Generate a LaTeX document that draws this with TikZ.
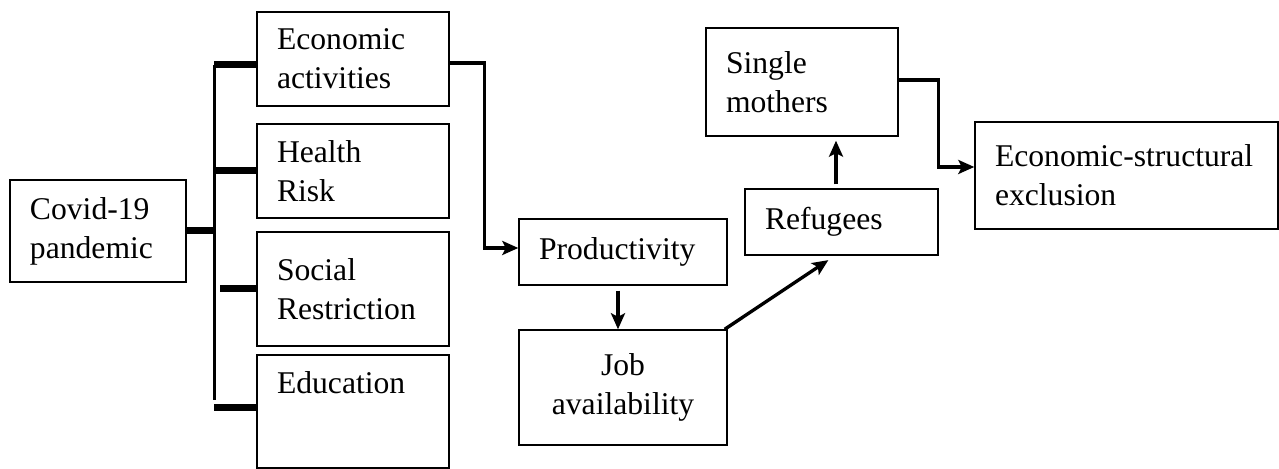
\documentclass[tikz,border=0pt]{standalone}
\usepackage{fontspec}
\setmainfont{Liberation Serif}
\usetikzlibrary{arrows.meta}

\begin{document}
\begin{tikzpicture}[node distance=1.2cm,
    >={Stealth[length=0.16cm, width=0.14cm, inset=0.035cm]},
    box/.style={draw, rectangle, line width=0.4pt, inner xsep=0.2cm, align=left, font=\fontsize{9}{11.1}\selectfont},
    stub/.style={line width=2pt},
    link/.style={->, line width=0.95pt}]
    \useasboundingbox (-0.98,2.31) rectangle (11.81,-2.38);

    % Cause (Left Side)
    \node[box, text width=1.36cm, minimum height=1.02cm] (covid) {Covid-19\\pandemic};

    % Affected areas
    \node[box, right of=covid, xshift=1.35cm, yshift=1.72cm, text width=1.52cm, minimum height=0.94cm] (econ) {Economic\\activities};
    \node[box, below of=econ, yshift=0.08cm, text width=1.52cm, minimum height=0.94cm] (health) {Health\\Risk};
    \node[box, below of=health, yshift=0.02cm, text width=1.52cm, minimum height=1.14cm] (social) {Social\\Restriction};
    \node[box, below of=social, yshift=-0.025cm, text width=1.52cm, minimum height=1.13cm, text depth=0.58cm] (edu) {Education};

    % Bus
    \coordinate (bustop) at ([xshift=-0.42cm, yshift=-0.06cm]econ.west);
    \coordinate (busbot) at ([xshift=-0.42cm, yshift=0.115cm]edu.west);
    \draw[line width=1pt] (bustop) -- (busbot);
    \draw[stub] (covid.east) -- (covid.east -| bustop);
    \draw[stub] (bustop) -- (bustop -| econ.west);
    \draw[stub] (health.west -| bustop) -- (health.west);
    \draw[stub] ([xshift=0.06cm]social.west -| bustop) -- (social.west);
    \draw[stub] ([yshift=0.035cm]edu.west -| bustop) -- ([yshift=0.035cm]edu.west);

    % Chain (Right Side)
    \node[box, right of=econ, xshift=1.5cm, yshift=-1.93cm, text width=1.68cm, minimum height=0.66cm] (prod) {Productivity};
    \node[box, below of=prod, yshift=-0.155cm, text width=1.68cm, minimum height=1.15cm, align=center] (job) {Job\\availability};
    \node[box, right of=prod, xshift=0.985cm, yshift=0.30cm, text width=1.53cm, minimum height=0.66cm] (ref) {Refugees};
    \node[box, above of=ref, xshift=-0.395cm, yshift=0.20cm, text width=1.52cm, minimum height=1.08cm] (sm) {Single\\mothers};
    \node[box, right of=ref, xshift=1.65cm, yshift=0.465cm, text width=2.63cm, minimum height=1.07cm] (excl) {Economic-structural\\exclusion};

    % Connections
    \draw[link] ([yshift=-0.04cm]econ.east) -- ++(0.35,0) |- ([yshift=0.04cm]prod.west);
    \draw[link, shorten <=0.05cm] ([xshift=-0.05cm]prod.south) -- ([xshift=-0.05cm]job.north);
    \draw[link, shorten >=0.08cm] ([xshift=-0.03cm]job.north east) -- ([xshift=-0.065cm]ref.south);
    \draw[link, shorten <=0.04cm, shorten >=0.04cm] ([xshift=-0.055cm]ref.north) -- ([xshift=-0.055cm]ref.north |- sm.south);
    \draw[link] ([yshift=0.02cm]sm.east) -- ++(0.40,0) |- ([yshift=0.085cm]excl.west);
\end{tikzpicture}
\end{document}
